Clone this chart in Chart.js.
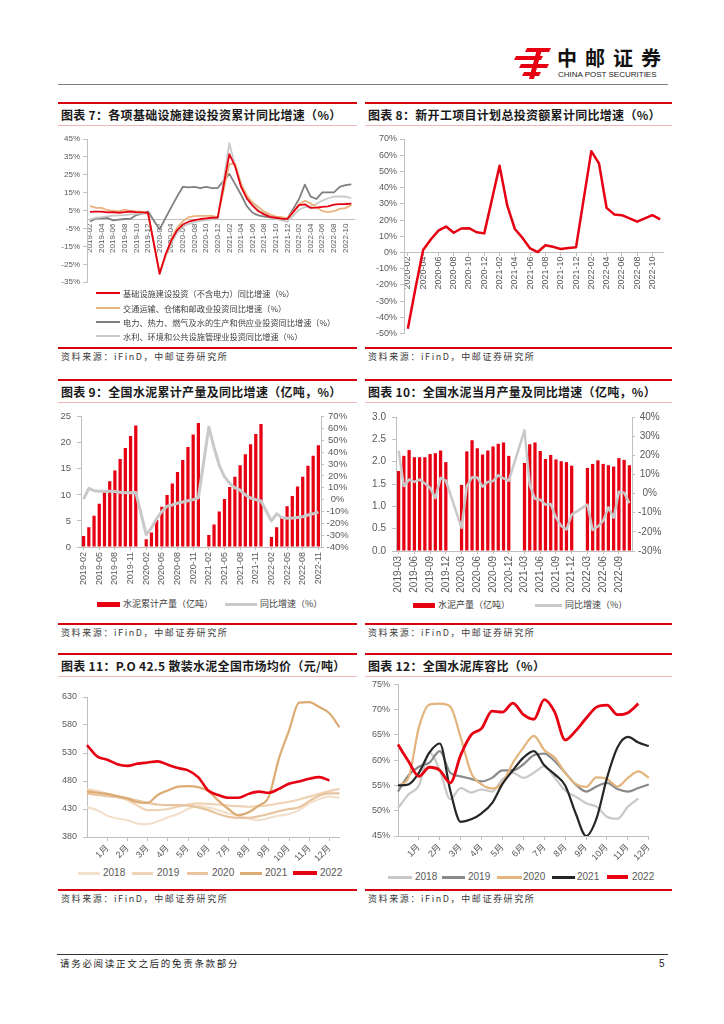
<!DOCTYPE html>
<html lang="zh-CN">
<head>
<meta charset="utf-8">
<title>中邮证券 - 基建与水泥</title>
<script src="https://cdn.jsdelivr.net/npm/chart.js@4.4.1/dist/chart.umd.min.js"></script>
<style>
  html, body { margin: 0; padding: 0; background: #fff; }
  body { position: relative; width: 724px; height: 1024px; overflow: hidden;
         font-family: "Noto Sans CJK SC", "Noto Sans", sans-serif; color: #222; }
  .abs, canvas { position: absolute; }
  .title { font-size: 12px; font-weight: 700; line-height: 16px; letter-spacing: 0.3px; white-space: nowrap; color: #1a1a1a; }
  .src { font-size: 9px; line-height: 12px; letter-spacing: 1.6px; color: #3a3a3a; white-space: nowrap; }
  .lg { font-size: 8.2px; line-height: 12px; color: #404040; white-space: nowrap; }
  .lg9 { font-size: 9px; }
  .num { font-family: "Liberation Sans", Arial, sans-serif; font-size: 10px; color: #595959; }
</style>
</head>
<body>

<svg class="abs" style="left:512px;top:46px" width="42" height="34" viewBox="0 0 42 34">
  <g fill="#e60012">
    <polygon points="15,2 39,2 37,6 13,6"/>
    <polygon points="4,10 31,10 29,14 2,14"/>
    <polygon points="9,18 37,18 35,22 7,22"/>
    <polygon points="12,26 29,26 27,30 10,30"/>
    <polygon points="25,3 30,3 22,33 17,33"/>
  </g>
</svg>
<div class="abs" style="left:557px;top:46px;font-size:20px;font-weight:700;letter-spacing:8px;line-height:24px;color:#111">中邮证券</div>
<div class="abs" style="left:558px;top:70px;font-family:'Liberation Sans',Arial,sans-serif;font-size:8px;line-height:10px;color:#222">CHINA POST SECURITIES</div>
<div class="abs" style="left:58px;top:84px;width:610px;height:1px;background:#7f7f7f"></div>

<div class="abs" style="left:57px;top:954px;width:611px;height:1px;background:#333"></div>
<div class="abs" style="left:60px;top:957px;font-size:9.5px;letter-spacing:1.7px;line-height:13px;color:#222">请务必阅读正文之后的免责条款部分</div>
<div class="abs" style="left:659px;top:957px;font-family:'Liberation Sans',Arial,sans-serif;font-size:10px;line-height:13px">5</div>

<script>
// ---------- data ----------
// monthly axis with empty January slots (Jan/Feb are reported together)
const monthsFeb2019 = [
  '2019-02', '2019-03', '2019-04', '2019-05', '2019-06', '2019-07', '2019-08', '2019-09', '2019-10', '2019-11', '2019-12',
  '2020-01', '2020-02', '2020-03', '2020-04', '2020-05', '2020-06', '2020-07', '2020-08', '2020-09', '2020-10', '2020-11', '2020-12',
  '2021-01', '2021-02', '2021-03', '2021-04', '2021-05', '2021-06', '2021-07', '2021-08', '2021-09', '2021-10', '2021-11', '2021-12',
  '2022-01', '2022-02', '2022-03', '2022-04', '2022-05', '2022-06', '2022-07', '2022-08', '2022-09', '2022-10', '2022-11',
];
const monthsFeb2020 = monthsFeb2019.slice(12);
const monthsMar2019 = monthsFeb2019.slice(1);

// chart 7: infrastructure investment YoY (%)
const infraNames = [
  '基础设施建设投资（不含电力）同比增速（%）',
  '交通运输、仓储和邮政业投资同比增速（%）',
  '电力、热力、燃气及水的生产和供应业投资同比增速（%）',
  '水利、环境和公共设施管理业投资同比增速（%）',
];
const infraYoY = [4.3, 4.4, 4.4, 4.0, 4.1, 3.8, 4.2, 4.5, 4.2, 4.0, 3.8,
  null, -30.3, -19.7, -11.8, -6.0, -2.8, -1.2, -0.3, 0.3, 0.7, 1.0, 1.1,
  null, 36.6, 29.7, 18.4, 11.8, 7.8, 4.6, 2.9, 1.5, 1.0, 0.5, 0.4,
  null, 8.1, 8.5, 6.5, 6.7, 7.1, 7.4, 8.3, 8.6, 8.7, 8.9];
const transportYoY = [7.5, 6.6, 6.5, 5.2, 4.9, 4.6, 5.5, 4.6, 4.5, 4.4, 3.4,
  null, -29.4, -20.5, -11.0, -4.5, -1.0, 1.4, 1.9, 2.1, 2.0, 2.1, 1.4,
  null, 31.0, 31.2, 20.0, 13.5, 9.5, 7.1, 4.4, 2.9, 1.6, 1.3, 0.7,
  null, 8.5, 10.5, 9.0, 7.0, 4.7, 4.2, 4.7, 6.0, 6.4, 8.2];
const powerYoY = [-1.0, 0.5, 0.8, 0.9, -0.5, 0.0, 0.3, 0.5, 2.5, 3.3, 4.5,
  null, -5.5, 0.8, 6.8, 12.8, 18.3, 18.0, 18.3, 17.5, 18.2, 17.6, 17.6,
  null, 25.5, 19.8, 14.0, 7.5, 3.8, 2.3, 1.6, 1.2, 0.8, 0.4, 0.5,
  null, 11.5, 19.5, 12.8, 11.5, 15.2, 15.2, 15.2, 18.3, 19.2, 19.7];
const waterYoY = [0.0, 1.0, 1.3, 1.8, 2.2, 2.3, 2.5, 2.9, 3.2, 3.5, 3.3,
  null, -30.5, -21.0, -13.0, -7.5, -4.0, -2.5, -1.5, -0.8, -0.3, 0.1, 0.5,
  null, 42.7, 30.0, 20.0, 13.0, 9.0, 5.5, 3.5, 1.8, 0.5, -0.5, -1.2,
  null, 5.5, 7.0, 7.3, 8.8, 10.6, 11.9, 12.8, 13.0, 12.8, 11.9];

// chart 8: planned investment of new projects, cumulative YoY (%)
const newProjYoY = [-47, -22, 1.5, 8, 13.5, 16, 12.2, 14.8, 15, 12.5, 11.8,
  null, 53.5, 29, 14.5, 9, 2.5, 0.3, 4.5, 3.5, 2.2, 2.8, 3.2,
  null, 62.5, 55, 27.5, 23.5, 23, 21, 19, 21, 23, 20.5];

// chart 9: cumulative cement output (100m t) and YoY (%)
const cumNames = ['水泥累计产量（亿吨）', '同比增速（%）'];
const cementCum = [2.1, 3.8, 6.0, 8.3, 10.5, 12.6, 14.7, 16.9, 19.0, 21.3, 23.3,
  null, 1.5, 2.8, 5.2, 7.7, 10.0, 12.2, 14.4, 16.7, 19.2, 21.6, 23.8,
  null, 2.3, 4.3, 6.8, 9.2, 11.5, 13.5, 15.7, 17.8, 19.7, 21.7, 23.6,
  null, 1.9, 3.8, 5.8, 7.8, 9.8, 11.6, 13.5, 15.6, 17.5, 19.5];
const cementCumYoY = [0.5, 9.5, 7.5, 7.0, 7.0, 7.0, 6.8, 6.3, 5.8, 5.8, 6.1,
  null, -29.6, -23.9, -16.0, -10.0, -5.5, -4.5, -3.0, -2.0, -1.0, 0.0, 1.5,
  null, 61.1, 44.0, 29.0, 19.3, 13.8, 10.0, 8.0, 4.0, 1.4, 0.0, -1.2,
  null, -18.0, -12.0, -15.2, -15.8, -15.5, -15.0, -14.5, -13.0, -12.0, -10.5];

// chart 10: monthly cement output (100m t) and YoY (%)
const monthNames = ['水泥产量（亿吨）', '同比增速（%）'];
const cementMonth = [1.79, 2.13, 2.26, 2.10, 2.10, 2.10, 2.17, 2.19, 2.25, 1.99,
  null, null, 1.48, 2.23, 2.48, 2.30, 2.16, 2.25, 2.34, 2.40, 2.43, 2.13,
  null, null, 1.97, 2.39, 2.43, 2.24, 2.06, 2.15, 2.05, 2.01, 1.99, 1.91,
  null, null, 1.86, 1.95, 2.03, 1.95, 1.92, 1.89, 2.08, 2.04, 1.92];
const cementMonthYoY = [22.4, 3.9, 7.3, 6.1, 7.3, 5.3, 3.1, -2.4, 8.2, 6.8,
  null, null, -17.9, 3.9, 8.5, 8.4, 3.6, 6.1, 6.5, 9.6, 7.9, 6.7,
  null, null, 33.0, 4.4, -2.7, -3.2, -5.8, -5.5, -12.6, -16.9, -18.8, -11.0,
  null, null, -5.8, -19.0, -17.2, -14.3, -7.2, -12.6, 1.0, 0.5, -5.0];

// charts 11 and 12: half-month points, month names as tick labels
const years = ['2018', '2019', '2020', '2021', '2022'];
const priceTicks = ['', '', '1月', '', '2月', '', '3月', '', '4月', '', '5月', '', '6月', '',
  '7月', '', '8月', '', '9月', '', '10月', '', '11月', '', '12月', ''];
const stockTicks = priceTicks.slice(0, 25);

const price2018 = [433, 428, 418, 413, 410, 404, 403, 408, 415, 421, 430, 435, 433, 428, 422, 418, 413, 410, 414, 418, 421, 428, 440, 448, 452, 450];
const price2019 = [465, 462, 457, 452, 446, 436, 428, 428, 430, 434, 438, 440, 439, 438, 436, 435, 434, 435, 437, 440, 443, 447, 452, 457, 462, 466];
const price2020 = [458, 455, 453, 451, 449, 445, 441, 438, 437, 437, 436, 433, 428, 421, 416, 414, 414, 417, 421, 426, 430, 433, 444, 454, 458, 458];
const price2021 = [461, 459, 457, 453, 449, 442, 441, 455, 463, 470, 471, 469, 462, 445, 430, 419, 424, 436, 452, 520, 570, 620, 621, 612, 601, 576];
const price2022 = [544, 524, 518, 510, 507, 511, 513, 515, 509, 503, 499, 487, 463, 455, 450, 450, 457, 461, 459, 466, 475, 479, 484, 487, 481, null];

const stock2018 = [50.5, 53.2, 55.0, 61.5, 58.0, 52.3, 54.5, 53.6, 54.2, 53.8, 56.2, 57.5, 56.5, 57.5, 58.8, 56.5, 54.0, 52.8, 51.5, 50.8, 48.8, 48.4, 50.8, 52.4, null];
const stock2019 = [53.8, 57.0, 58.7, 59.5, 61.8, 57.5, 56.8, 56.3, 55.8, 56.5, 58.0, 58.0, 59.2, 61.0, 61.3, 59.8, 57.5, 55.2, 53.8, 54.8, 55.5, 54.3, 53.8, 54.5, 55.2];
const stock2020 = [55.0, 56.5, 66.5, 71.0, 71.2, 70.6, 64.5, 57.5, 55.2, 54.4, 55.5, 59.5, 62.5, 64.8, 62.0, 60.5, 57.5, 55.3, 54.7, 56.6, 56.3, 54.8, 56.5, 57.8, 56.5];
const stock2021 = [55.0, 55.2, 57.5, 61.5, 63.3, 54.0, 47.8, 48.3, 49.5, 51.5, 55.3, 58.0, 60.5, 61.8, 59.0, 57.2, 55.0, 49.5, 45.0, 48.5, 56.5, 62.5, 64.6, 63.5, 62.8];
const stock2022 = [63.1, 59.8, 56.8, 58.6, 58.0, 55.5, 61.0, 65.0, 66.3, 69.7, 69.5, 71.3, 69.0, 68.1, 72.0, 69.5, 64.0, 65.8, 68.3, 70.5, 70.9, 69.0, 69.4, 71.2, null];

// ---------- page furniture ----------
const RED = '#e60012';
const AXIS = '#bfbfbf';
const NONE = 'rgba(0,0,0,0)';
const SOURCE = '资料来源：iFinD，中邮证券研究所';

function addBox(x, y, w, h, bg) {
  const d = document.createElement('div');
  d.className = 'abs';
  Object.assign(d.style, { left: x + 'px', top: y + 'px', width: w + 'px', height: h + 'px', background: bg });
  document.body.appendChild(d);
  return d;
}

function addText(x, y, text, cls) {
  const d = document.createElement('div');
  d.className = 'abs ' + cls;
  d.style.left = x + 'px';
  d.style.top = y + 'px';
  d.textContent = text;
  document.body.appendChild(d);
  return d;
}

const sections = [
  [58, 299, 102, 347, '图表 7：各项基础设施建设投资累计同比增速（%）'],
  [365, 307, 102, 347, '图表 8：新开工项目计划总投资额累计同比增速（%）'],
  [58, 299, 379, 623, '图表 9：全国水泥累计产量及同比增速（亿吨，%）'],
  [365, 307, 379, 623, '图表 10：全国水泥当月产量及同比增速（亿吨，%）'],
  [58, 299, 653, 889, '图表 11：P.O 42.5 散装水泥全国市场均价（元/吨）'],
  [365, 307, 653, 889, '图表 12：全国水泥库容比（%）'],
];
sections.forEach(([x, w, top, srcY, title]) => {
  addBox(x, top, w, 2, '#d7000f');
  addText(x + 3, top + 5, title, 'title');
  addBox(x, top + 23, w, 1, '#f2b8b8');
  addBox(x, srcY, w, 1.5, '#d7000f');
  addText(x + 3, srcY + 4, SOURCE, 'src');
});

// ---------- chart helpers ----------
Chart.defaults.font.family = "'Liberation Sans', Arial, sans-serif";
Chart.defaults.color = '#595959';
Chart.defaults.animation = false;
Chart.defaults.plugins.legend.display = false;
Chart.defaults.plugins.tooltip.enabled = false;

// canvas box on the page and the plot area wanted inside it
function frame(box, area, wl, wr, hx) {
  const [bx, by, bw, bh] = box;
  const [l, t, r, b] = area;
  const c = document.createElement('canvas');
  c.width = bw;
  c.height = bh;
  Object.assign(c.style, { left: bx + 'px', top: by + 'px', width: bw + 'px', height: bh + 'px' });
  document.body.appendChild(c);
  return {
    canvas: c,
    padding: { left: l - bx - wl, right: bx + bw - r - wr, top: t - by, bottom: by + bh - b - hx },
  };
}

function yAxis({ pos = 'left', min, max, step, fmt, size, tl = 4, pad = 3, width, align = 'near' }) {
  return {
    type: 'linear', position: pos, min, max,
    ticks: {
      // one spare slot so the generator keeps the exact step when min/max are off-grid
      stepSize: step, maxTicksLimit: Math.round((max - min) / step) + 2,
      autoSkip: false, padding: pad, crossAlign: align, font: { size }, callback: fmt,
    },
    grid: { drawOnChartArea: false, tickLength: tl, color: AXIS },
    border: { color: AXIS },
    afterFit: (s) => { s.width = width; },
  };
}

function xAxis({ labels, every = 1, rot, size, tl = 3, pad = 2, height, at, offset, marks = true }) {
  const shown = (i) => i % every === 0 && labels[i] !== '';
  const ax = {
    type: 'category', offset,
    ticks: {
      autoSkip: false, minRotation: rot, maxRotation: rot, padding: pad, font: { size },
      callback: (v, i) => (shown(i) ? labels[i] : ''),
    },
    grid: {
      drawOnChartArea: false, offset: false, tickLength: tl,
      color: (c) => (marks && shown(c.index) ? AXIS : NONE),
    },
    border: { color: AXIS },
  };
  if (at !== undefined) ax.position = { y: at };
  else ax.afterFit = (s) => { s.height = height; };
  return ax;
}

function line(data, color, width, order, smooth) {
  return {
    type: 'line', data, borderColor: color, backgroundColor: color, borderWidth: width,
    pointRadius: 0, spanGaps: true, order, tension: 0, borderJoinStyle: 'round',
    cubicInterpolationMode: smooth ? 'monotone' : 'default', yAxisID: 'y',
  };
}

function options(f, scales) {
  return { responsive: false, layout: { padding: f.padding, autoPadding: false }, scales };
}

const pct = (v) => v + '%';

// legend pieces
function keyLine(x1, x2, y, color, w) { addBox(x1, y - w / 2, x2 - x1, w, color); }
function keyText(x, y, text, cls) { addText(x, y - 6, text, cls); }

// ---------- chart 7 ----------
{
  const f = frame([58, 130, 304, 160], [87, 139, 356, 283], 29, 0, 0);
  new Chart(f.canvas, {
    type: 'line',
    data: {
      labels: monthsFeb2019,
      datasets: [
        line(infraYoY, RED, 1.8, 0),
        line(transportYoY, '#e9b47d', 1.8, 1),
        line(waterYoY, '#c9c9c9', 1.8, 2),
        line(powerYoY, '#7f7f7f', 1.8, 3),
      ],
    },
    options: options(f, {
      x: xAxis({ labels: monthsFeb2019, every: 2, rot: 90, size: 8, tl: 3, pad: 1, at: 0, offset: true, marks: false }),
      y: yAxis({ min: -35, max: 45, step: 10, fmt: pct, size: 8, tl: 4, pad: 3, width: 29 }),
    }),
  });
  const colors = [RED, '#e9b47d', '#7f7f7f', '#c9c9c9'];
  const rows = [293, 307.5, 321.5, 335.5];
  infraNames.forEach((name, i) => {
    keyLine(96, 120, rows[i], colors[i], 2);
    keyText(123, rows[i], name, 'lg');
  });
}

// ---------- chart 8 ----------
{
  const f = frame([362, 130, 310, 212], [404, 139, 666.5, 334], 42, 0, 0);
  new Chart(f.canvas, {
    type: 'line',
    data: { labels: monthsFeb2020, datasets: [line(newProjYoY, RED, 2.5, 0)] },
    options: options(f, {
      x: xAxis({ labels: monthsFeb2020, every: 2, rot: 90, size: 9, tl: 3, pad: 1, at: 0, offset: true }),
      y: yAxis({ min: -50, max: 70, step: 10, fmt: pct, size: 9, tl: 4, pad: 3, width: 42 }),
    }),
  });
}

// ---------- chart 9 ----------
{
  const f = frame([58, 405, 300, 190], [81, 414, 321, 547], 23, 37, 48);
  const yoy = line(cementCumYoY, '#c9c9c9', 3, 0);
  yoy.yAxisID = 'y1';
  new Chart(f.canvas, {
    type: 'bar',
    data: {
      labels: monthsFeb2019,
      datasets: [
        yoy,
        { type: 'bar', data: cementCum, backgroundColor: RED, barPercentage: 0.62, categoryPercentage: 1, yAxisID: 'y', order: 1 },
      ],
    },
    options: options(f, {
      x: xAxis({ labels: monthsFeb2019, every: 3, rot: 90, size: 9, tl: 3, pad: 2, height: 48, offset: true }),
      y: yAxis({ min: 0, max: 25, step: 5, fmt: (v) => v, size: 9.5, tl: 4, pad: 6, width: 23 }),
      y1: yAxis({ pos: 'right', min: -40, max: 70, step: 10, fmt: pct, size: 9.5, tl: 3, pad: 2.5, width: 37, align: 'center' }),
    }),
  });
  addBox(97, 601.5, 23, 5, RED);
  keyText(123, 604, cumNames[0], 'lg lg9');
  keyLine(225, 257, 604, '#c9c9c9', 3);
  keyText(260, 604, cumNames[1], 'lg lg9');
}

// ---------- chart 10 ----------
{
  const f = frame([362, 405, 310, 190], [396, 414, 632, 551], 34, 40, 44);
  const yoy = line(cementMonthYoY, '#c9c9c9', 2.5, 0);
  yoy.yAxisID = 'y1';
  new Chart(f.canvas, {
    type: 'bar',
    data: {
      labels: monthsMar2019,
      datasets: [
        yoy,
        { type: 'bar', data: cementMonth, backgroundColor: RED, barPercentage: 0.62, categoryPercentage: 1, yAxisID: 'y', order: 1 },
      ],
    },
    options: options(f, {
      x: xAxis({ labels: monthsMar2019, every: 3, rot: 90, size: 10, tl: 3, pad: 2, height: 44, offset: true }),
      y: yAxis({ min: 0, max: 3, step: 0.5, fmt: (v) => v.toFixed(1), size: 10, tl: 4, pad: 6, width: 34 }),
      y1: yAxis({ pos: 'right', min: -30, max: 40, step: 10, fmt: pct, size: 10, tl: 3, pad: 3, width: 40, align: 'center' }),
    }),
  });
  addBox(413, 602.5, 22, 5, RED);
  keyText(438, 605, monthNames[0], 'lg lg9');
  keyLine(535, 562, 605, '#c9c9c9', 3);
  keyText(565, 605, monthNames[1], 'lg lg9');
}

// ---------- chart 11 ----------
{
  const colors = ['#f3e0cc', '#efd3b5', '#e8c49f', '#dcab74', RED];
  const series = [price2018, price2019, price2020, price2021, price2022];
  const f = frame([58, 685, 300, 180], [87, 697, 339.5, 837], 29, 0, 28);
  new Chart(f.canvas, {
    type: 'line',
    data: {
      labels: priceTicks,
      datasets: series.map((d, i) => line(d, colors[i], i === 4 ? 2.6 : 2.2, 4 - i, true)),
    },
    options: options(f, {
      x: xAxis({ labels: priceTicks, rot: 45, size: 9, tl: 4, pad: 2, height: 28, offset: false }),
      y: yAxis({ min: 380, max: 630, step: 50, fmt: (v) => v, size: 9, tl: 4, pad: 6, width: 29 }),
    }),
  });
  const lx = [[78, 100], [132, 153], [187, 208], [240, 262], [293, 317]];
  const tx = [103, 157, 212, 265, 320];
  years.forEach((y, i) => {
    keyLine(lx[i][0], lx[i][1], 873, colors[i], i === 4 ? 3.5 : 3);
    keyText(tx[i], 873, y, 'num');
  });
}

// ---------- chart 12 ----------
{
  const colors = ['#c8c8c8', '#8a8a8a', '#e3b47c', '#262626', RED];
  const series = [stock2018, stock2019, stock2020, stock2021, stock2022];
  const f = frame([362, 675, 310, 190], [398, 684, 648.8, 836], 36, 0, 29);
  new Chart(f.canvas, {
    type: 'line',
    data: {
      labels: stockTicks,
      datasets: series.map((d, i) => line(d, colors[i], i === 4 ? 2.8 : 2.2, 4 - i, true)),
    },
    options: options(f, {
      x: xAxis({ labels: stockTicks, rot: 45, size: 9, tl: 4, pad: 2, height: 29, offset: false }),
      y: yAxis({ min: 45, max: 75, step: 5, fmt: pct, size: 9, tl: 4, pad: 4, width: 36 }),
    }),
  });
  const lx = [[388, 412], [442, 465], [497, 522], [552, 575], [607, 628]];
  const tx = [415, 468, 523, 577, 632];
  years.forEach((y, i) => {
    keyLine(lx[i][0], lx[i][1], 877, colors[i], i === 4 ? 3.5 : 3);
    keyText(tx[i], 877, y, 'num');
  });
}
</script>
</body>
</html>
